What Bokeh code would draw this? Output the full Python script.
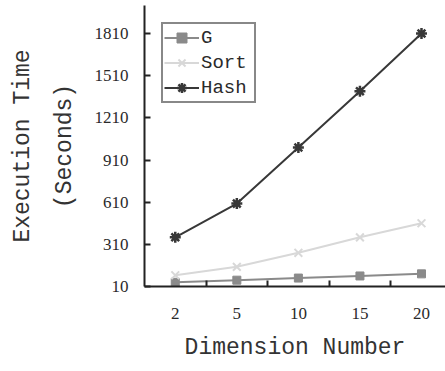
from bokeh.plotting import figure
from bokeh.models import FixedTicker, Legend, LegendItem, Range1d
from bokeh.embed import file_html
from bokeh.resources import INLINE

# Execution time (seconds) by dimension number
dimensions = ["2", "5", "10", "15", "20"]
g_times = [40, 55, 70, 85, 100]
sort_times = [90, 150, 250, 360, 460]
hash_times = [360, 600, 1000, 1400, 1810]
y_ticks = [10, 310, 610, 910, 1210, 1510, 1810]

xs = list(range(len(dimensions)))

p = figure(width=445, height=371, output_backend="svg", toolbar_location=None,
           x_range=Range1d(-0.5, 4.39), y_range=Range1d(10, 2010),
           min_border_left=144, min_border_right=0, min_border_top=5,
           min_border_bottom=85)
p.outline_line_color = None
p.grid.visible = False
p.background_fill_color = "white"
p.border_fill_color = "white"

serif = "Liberation Serif"
mono = "Liberation Mono"
ink = "#2a2a2a"

g_col = "#8a8a8a"
sort_col = "#d8d8d8"
hash_col = "#383838"

r_g_line = p.line(xs, g_times, line_color=g_col, line_width=2)
r_g_mark = p.scatter(xs, g_times, marker="square", size=8, fill_color=g_col,
                     line_color=g_col)
r_s_line = p.line(xs, sort_times, line_color=sort_col, line_width=2)
r_s_mark = p.scatter(xs, sort_times, marker="x", size=11, line_color=sort_col,
                     line_width=2)
r_h_line = p.line(xs, hash_times, line_color=hash_col, line_width=2)
r_h_mark = p.scatter(xs, hash_times, marker="asterisk", size=11,
                     line_color=hash_col, line_width=2.5)

# x axis: labels at category centres, small inward ticks between categories
xa = p.xaxis[0]
xa.ticker = FixedTicker(ticks=xs, minor_ticks=[0.5, 1.5, 2.5, 3.5])
xa.major_label_overrides = {i: d for i, d in enumerate(dimensions)}
xa.major_tick_in = 0
xa.major_tick_out = 0
xa.minor_tick_in = 6
xa.minor_tick_out = 0
xa.minor_tick_line_width = 2
xa.minor_tick_line_color = "#222222"
xa.axis_line_width = 2
xa.axis_line_color = "#222222"
xa.major_label_text_font = serif
xa.major_label_text_font_size = "17px"
xa.major_label_text_color = ink
xa.major_label_standoff = 21
xa.axis_label = "Dimension Number"
xa.axis_label_text_font = mono
xa.axis_label_text_font_size = "23px"
xa.axis_label_text_font_style = "normal"
xa.axis_label_text_color = "#333333"
xa.axis_label_standoff = 13

ya = p.yaxis[0]
ya.ticker = FixedTicker(ticks=y_ticks, minor_ticks=[])
ya.major_tick_in = 6
ya.major_tick_out = 0
ya.major_tick_line_width = 2
ya.major_tick_line_color = "#222222"
ya.minor_tick_in = 0
ya.minor_tick_out = 0
ya.axis_line_width = 2
ya.axis_line_color = "#222222"
ya.major_label_text_font = serif
ya.major_label_text_font_size = "17px"
ya.major_label_text_color = ink
ya.major_label_standoff = 16
ya.axis_label = "Execution Time\n(Seconds)"
ya.axis_label_text_font = mono
ya.axis_label_text_font_size = "23px"
ya.axis_label_text_font_style = "normal"
ya.axis_label_text_color = "#333333"
ya.axis_label_text_line_height = 1.6
ya.axis_label_standoff = 14

legend = Legend(items=[
    LegendItem(label="G", renderers=[r_g_line, r_g_mark]),
    LegendItem(label="Sort", renderers=[r_s_line, r_s_mark]),
    LegendItem(label="Hash", renderers=[r_h_line, r_h_mark]),
], location=(17, 183))
legend.label_text_font = mono
legend.label_text_font_size = "19px"
legend.label_text_color = ink
legend.glyph_width = 35
legend.glyph_height = 25
legend.label_standoff = 2
legend.label_width = 52
legend.spacing = 0
legend.padding = 1
legend.margin = 0
legend.border_line_color = "#111111"
legend.border_line_width = 2
legend.background_fill_color = "white"
legend.background_fill_alpha = 1
p.add_layout(legend)

open("out.html", "w").write(file_html(p, INLINE))
